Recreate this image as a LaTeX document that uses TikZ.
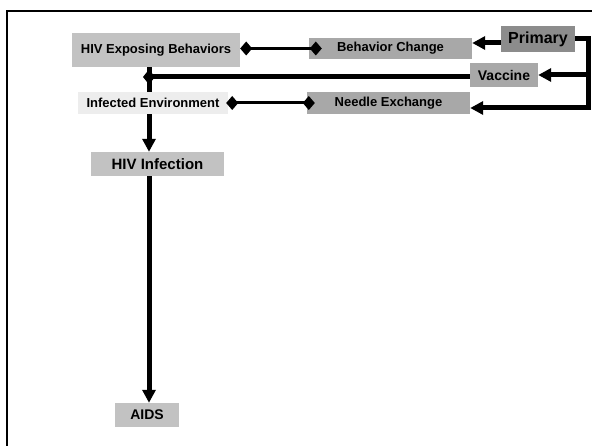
\documentclass[tikz,border=0pt]{standalone}
\usepackage{fontspec}
\setmainfont{Liberation Sans}
\usetikzlibrary{arrows.meta, positioning}

\definecolor{pale}{gray}{0.93}
\definecolor{light}{gray}{0.76}
\definecolor{mid}{gray}{0.66}
\definecolor{dark}{gray}{0.55}

\tikzset{
  box/.style={rectangle, inner sep=0pt, font=\fontsize{13}{15}\selectfont\bfseries},
  link/.style={line width=5pt, -{Triangle[length=13pt,width=13pt]}},
  tie/.style={line width=3pt, {Diamond[length=12pt,width=14pt]}-{Diamond[length=12pt,width=14pt]}}
}

\begin{document}
\begin{tikzpicture}[x=1pt,y=-1pt]

   \useasboundingbox (0,0) rectangle (592,446);
   \draw[line width=2pt] (7,11) rectangle (620,470);

   \node[box,fill=light,minimum width=168pt,minimum height=34pt] (hiv_exp) at (156,50) {HIV Exposing Behaviors};
   \node[box,fill=mid,minimum width=163pt,minimum height=21pt] (beh_ch) at (390.5,48.5) {Behavior Change};
   \node[box,fill=dark,minimum width=74pt,minimum height=26pt,font=\fontsize{16}{18}\selectfont\bfseries] (primary) at (538,39) {Primary};
   \node[box,fill=mid,minimum width=68pt,minimum height=24pt,font=\fontsize{14}{16}\selectfont\bfseries] (vaccine) at (504,75) {Vaccine};
   \node[box,fill=pale,minimum width=150pt,minimum height=22pt] (inf_env) at (153,103) {Infected Environment};
   \node[box,fill=mid,minimum width=163pt,minimum height=22pt] (needle) at (388.5,103) {Needle Exchange};
   \node[box,fill=light,minimum width=133pt,minimum height=24pt,font=\fontsize{15}{17}\selectfont\bfseries] (hiv_inf) at (157.5,164) {HIV Infection};
   \node[box,fill=light,minimum width=64pt,minimum height=24pt,font=\fontsize{14}{16}\selectfont\bfseries] (aids) at (147,415) {AIDS};

   \coordinate (trunk) at (149,0);
   \coordinate (rail) at (588,0);
   \coordinate (pr_out) at ([yshift=-4pt]primary.west);
   \coordinate (vac_out) at ([yshift=-2pt]vaccine.west);
   \coordinate (ne_in) at ([yshift=-5pt]needle.east);

   % main chain
   \draw[line width=5pt] (hiv_exp.south -| trunk) -- (inf_env.north -| trunk);
   \draw[link] (inf_env.south -| trunk) -- (hiv_inf.north -| trunk);
   \draw[link] (hiv_inf.south -| trunk) -- (aids.north -| trunk);

   % interventions
   \draw[tie] (hiv_exp.east |- beh_ch.west) -- ([xshift=13pt]beh_ch.west);
   \draw[tie,shorten <=-2pt] (inf_env.east) -- ([xshift=8pt]needle.west);
   \draw[line width=5pt,-{Diamond[length=12pt,width=15pt]},shorten >=-6pt] (vac_out) -- (vac_out -| trunk);

   % primary prevention
   \draw[link] (pr_out) -- (pr_out -| beh_ch.east);
   \draw[link] (primary.east) -- (primary.east -| rail) -- (ne_in -| rail) -- (ne_in);
   \draw[link] (vaccine.east -| rail) -- (vaccine.east);

\end{tikzpicture}
\end{document}
